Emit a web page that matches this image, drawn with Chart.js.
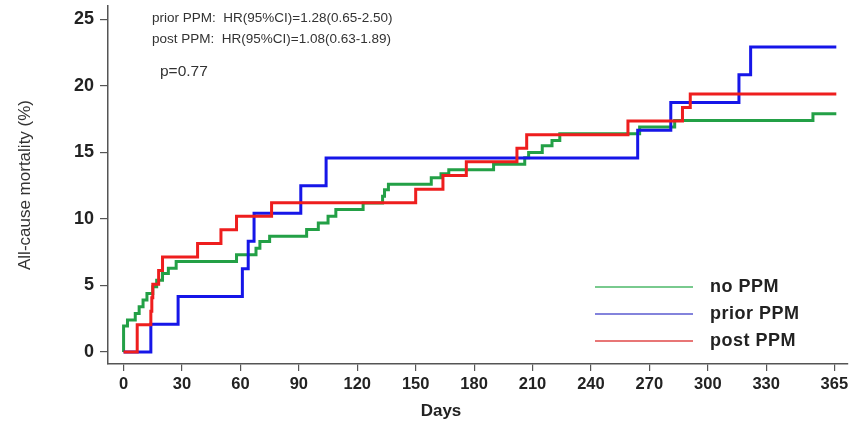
<!DOCTYPE html>
<html>
<head>
<meta charset="utf-8">
<script src="https://cdn.jsdelivr.net/npm/chart.js@4.4.1/dist/chart.umd.min.js"></script>
<style>
  html, body { margin: 0; padding: 0; background: #fff; }
  #wrap { width: 851px; height: 426px; }
</style>
</head>
<body>
<div id="wrap"><canvas id="km" width="851" height="426"></canvas></div>
<script>
// Kaplan-Meier steps: day of event, cumulative mortality (%)
var noPpmDays = [0, 0, 2, 6, 8, 10, 12, 15, 17, 20, 23, 27, 58, 68, 70, 75, 94, 100, 105, 109, 123, 133, 134, 136, 158, 163, 167, 190, 206, 208, 215, 220, 224, 265, 283, 354, 366];
var noPpmVals = [0, 1.95, 2.4, 2.9, 3.4, 3.9, 4.4, 4.9, 5.4, 5.9, 6.3, 6.8, 7.3, 7.8, 8.3, 8.7, 9.2, 9.7, 10.2, 10.7, 11.2, 11.7, 12.2, 12.6, 13.1, 13.4, 13.7, 14.1, 14.6, 15.0, 15.5, 15.9, 16.4, 16.9, 17.4, 17.9, 17.9];

var priorDays = [0, 14, 28, 61, 64, 67, 91, 104, 264, 281, 316, 322, 366];
var priorVals = [0, 2.08, 4.17, 6.25, 8.33, 10.42, 12.5, 14.58, 16.67, 18.75, 20.83, 22.92, 22.92];

var postDays = [0, 7, 14, 14.5, 15, 18, 20, 38, 50, 58, 76, 150, 164, 176, 202, 207, 259, 287, 291, 366];
var postVals = [0, 2.04, 3.06, 4.08, 5.1, 6.12, 7.14, 8.16, 9.18, 10.2, 11.22, 12.24, 13.27, 14.29, 15.31, 16.33, 17.35, 18.37, 19.39, 19.39];

var dayTicks = [0, 30, 60, 90, 120, 150, 180, 210, 240, 270, 300, 330, 365];
var pctTicks = [0, 5, 10, 15, 20, 25];

var groups = ['no PPM', 'prior PPM', 'post PPM'];
var hrLines = ['prior PPM:  HR(95%CI)=1.28(0.65-2.50)', 'post PPM:  HR(95%CI)=1.08(0.63-1.89)'];
var pText = 'p=0.77';

var lineColors = ['#23a046', '#1616e8', '#ee1e1e'];
var legendColors = ['#4cb868', '#5a5ad0', '#e04848'];

function toPoints(days, vals) {
    return days.map((d, i) => ({ x: d, y: vals[i] }));
}

var textPlugin = {
    id: 'kmText',
    afterDraw(chart) {
        let ctx = chart.ctx;
        let xs = chart.scales.x;
        ctx.save();
        ctx.fillStyle = '#333';
        ctx.textBaseline = 'middle';
        ctx.textAlign = 'left';
        ctx.font = '13.5px "Liberation Sans", Arial, sans-serif';
        ctx.fillText(hrLines[0], 152, 18);
        ctx.fillText(hrLines[1], 152, 39);
        ctx.font = '15.5px "Liberation Sans", Arial, sans-serif';
        ctx.fillText(pText, 160, 72);

        // legend inside the plot
        ctx.font = 'bold 18px "Liberation Sans", Arial, sans-serif';
        ctx.letterSpacing = '0.5px';
        groups.forEach((g, i) => {
            let y = 287 + i * 27;
            ctx.strokeStyle = legendColors[i];
            ctx.lineWidth = 1.5;
            ctx.beginPath();
            ctx.moveTo(595, y);
            ctx.lineTo(693, y);
            ctx.stroke();
            ctx.fillStyle = '#222';
            ctx.fillText(g, 710, y);
        });
        ctx.letterSpacing = '0px';

        // x axis title, set off to the left as in the figure
        ctx.font = 'bold 17px "Liberation Sans", Arial, sans-serif';
        ctx.textAlign = 'center';
        ctx.fillStyle = '#222';
        ctx.fillText('Days', xs.getPixelForValue(163), 411);
        ctx.restore();
    }
};

var fam = '"Liberation Sans", Arial, sans-serif';

new Chart(document.getElementById('km').getContext('2d'), {
    type: 'line',
    data: {
        datasets: [
            { label: groups[2], data: toPoints(postDays, postVals), borderColor: lineColors[2] },
            { label: groups[1], data: toPoints(priorDays, priorVals), borderColor: lineColors[1] },
            { label: groups[0], data: toPoints(noPpmDays, noPpmVals), borderColor: lineColors[0] }
        ].map(ds => Object.assign(ds, {
            stepped: true,
            borderWidth: 3,
            pointRadius: 0,
            fill: false,
            tension: 0
        }))
    },
    options: {
        responsive: false,
        animation: false,
        layout: { padding: { top: 6, right: 3, left: 0, bottom: 0 } },
        plugins: { legend: { display: false }, tooltip: { enabled: false } },
        scales: {
            x: {
                type: 'linear',
                min: -8,
                max: 372,
                afterBuildTicks: (s) => { s.ticks = dayTicks.map(v => ({ value: v })); },
                afterFit: (s) => { s.height = 62; s.paddingLeft = 0; s.paddingRight = 0; },
                grid: { drawOnChartArea: false, drawTicks: true, tickLength: 7, color: '#555', lineWidth: 1.2 },
                border: { display: true, color: '#555', width: 1.5 },
                ticks: { color: '#222', font: { size: 16.5, weight: 'bold', family: fam }, padding: 4, maxRotation: 0, autoSkip: false }
            },
            y: {
                min: -0.9,
                max: 26,
                afterBuildTicks: (s) => { s.ticks = pctTicks.map(v => ({ value: v })); },
                afterFit: (s) => { s.width = 108; s.paddingTop = 0; s.paddingBottom = 0; },
                grid: { drawOnChartArea: false, drawTicks: true, tickLength: 8, color: '#555', lineWidth: 1.2 },
                border: { display: true, color: '#555', width: 1.5 },
                ticks: { color: '#222', font: { size: 18, weight: 'bold', family: fam }, padding: 6, autoSkip: false },
                title: {
                    display: true,
                    text: 'All-cause mortality (%)',
                    color: '#333',
                    font: { size: 17, family: fam },
                    padding: { top: 15, bottom: 0 }
                }
            }
        }
    },
    plugins: [textPlugin]
});
</script>
</body>
</html>
